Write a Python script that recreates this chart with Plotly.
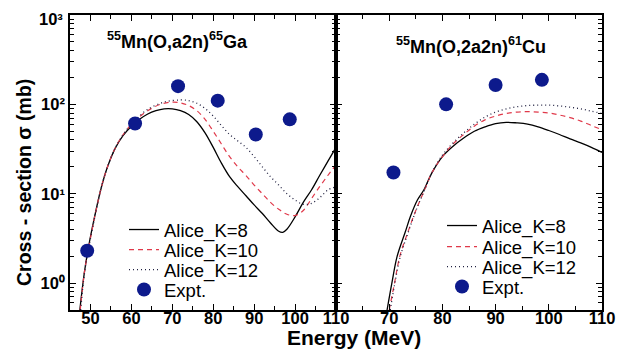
import plotly.graph_objects as go

# ---------------- data ----------------
# Left panel: 55Mn(O,a2n)65Ga
left_k8_E = [47.4, 48.5, 49.5, 51, 52.5, 54, 56, 58, 60, 62, 64, 66, 68, 70, 72, 74, 76, 78, 80, 82, 84, 86, 88, 90, 92, 94, 96, 97, 98, 100, 102, 104, 106, 108, 110]
left_k8_V = [0.5, 1.3, 2.5, 5.5, 11, 19, 32, 45, 57, 68, 78, 85, 89, 89, 85, 77, 64, 48, 33, 22, 15.5, 12, 9.5, 7.5, 6, 4.7, 3.8, 3.7, 4.0, 5.5, 8, 11, 16, 23, 33]

left_k10_E = [47.5, 48.5, 49.5, 51, 52.5, 54, 56, 58, 60, 62, 64, 67, 70, 72, 74, 76, 78, 80, 82, 84, 86, 88, 90, 92, 94, 96, 98, 100, 102, 104, 106, 108, 110]
left_k10_V = [0.5, 1.3, 2.4, 5.4, 11, 19, 32, 46, 60, 73, 85, 100, 106, 104, 97, 85, 68, 50, 36, 26, 20, 16, 12.5, 10, 8, 6.7, 5.9, 5.7, 6.5, 8.8, 12, 16, 21]

left_k12_E = [47.6, 48.5, 49.5, 51, 52.5, 54, 56, 58, 60, 62, 64, 68, 72, 74, 76, 78, 80, 82, 84, 86, 88, 90, 92, 94, 96, 98, 100, 102, 104, 106, 108, 110]
left_k12_V = [0.5, 1.25, 2.4, 5.3, 11, 19, 32, 46, 60, 74, 88, 106, 112, 110, 103, 90, 74, 58, 46, 39, 33, 26, 20, 15.5, 12.5, 10, 8.5, 7.6, 7.8, 9, 11, 12]

left_exp_E = [49.2, 60.9, 71.4, 81.1, 90.4, 98.7]
left_exp_V = [2.3, 61, 160, 110, 46, 68]

# Right panel: 55Mn(O,2a2n)61Cu
right_k8_E = [69.6, 70.5, 71.5, 73, 74, 75.3, 76.5, 78, 80, 82, 84, 86, 88, 90, 92, 94, 96, 98, 100, 102, 104, 106, 108, 110]
right_k8_V = [0.5, 1.0, 2.0, 3.7, 5.6, 8.5, 11, 17, 26, 34, 42, 50, 56, 61, 63, 62, 60, 56, 51, 46, 41, 37, 33, 29]

right_k10_E = [70.0, 71, 72, 73.5, 75, 76.5, 78, 80, 82, 84, 86, 88, 90, 92, 94, 96, 98, 100, 102, 104, 106, 108, 110]
right_k10_V = [0.5, 1.0, 2.0, 3.7, 6.5, 10.5, 17, 26, 36, 46, 57, 67, 74, 79, 82, 83, 82, 80, 76, 71, 65, 58, 52]

right_k12_E = [70.2, 71, 72, 73.5, 75, 76.5, 78, 80, 82, 84, 86, 88, 90, 92, 94, 96, 98, 100, 102, 104, 106, 108, 110]
right_k12_V = [0.5, 0.95, 1.9, 3.6, 6.4, 10.5, 17, 27, 37, 48, 60, 72, 82, 89, 94, 97, 98, 98, 96, 93, 89, 84, 79]

right_exp_E = [70.8, 80.7, 90.0, 98.7]
right_exp_V = [17.3, 100, 165, 188]

# y tick labels (the 10^3 label at the very top edge is placed as an annotation so it is not clipped)
y_tickvals = [1, 10, 100]
y_ticktext = ["10\u2070", "10\u00b9", "10\u00b2"]
y_top_label = "10\u00b3"
left_xticks = [50, 60, 70, 80, 90, 100, 110]
right_xticks = [70, 80, 90, 100, 110]

series_names = ["Alice_K=8", "Alice_K=10", "Alice_K=12", "Expt."]
panel_titles = ["<sup>55</sup>Mn(O,a2n)<sup>65</sup>Ga", "<sup>55</sup>Mn(O,2a2n)<sup>61</sup>Cu"]

# ---------------- layout helpers ----------------
# The page body has an 8px margin, so the figure is drawn 8px in from the window.
OFF = 8
W, H = 632 - OFF, 353 - OFF


def px(rx):
    return (rx - OFF) / W


def py(ry):
    return 1 - (ry - OFF) / H


FONT = "Arial, Liberation Sans, sans-serif"
solid = dict(color="black", width=1.3)
dashed = dict(color="#e0394a", width=1.2, dash="5px,4px")
dotted = dict(color="#202040", width=1.3, dash="1px,3px")
mcolor = "#0d1a8c"

fig = go.Figure()


def add_panel(xa, ya, legends, k8, k10, k12, exp):
    fig.add_trace(go.Scatter(x=k8[0], y=k8[1], mode="lines", line=dict(**solid, shape="spline"),
                             name=series_names[0], xaxis=xa, yaxis=ya, legend=legends[0]))
    fig.add_trace(go.Scatter(x=k10[0], y=k10[1], mode="lines", line=dict(**dashed, shape="spline"),
                             name=series_names[1], xaxis=xa, yaxis=ya, legend=legends[1]))
    fig.add_trace(go.Scatter(x=k12[0], y=k12[1], mode="lines", line=dict(**dotted, shape="spline"),
                             name=series_names[2], xaxis=xa, yaxis=ya, legend=legends[2]))
    fig.add_trace(go.Scatter(x=exp[0], y=exp[1], mode="markers",
                             marker=dict(color=mcolor, size=14, symbol="circle"),
                             name=series_names[3], xaxis=xa, yaxis=ya, legend=legends[3]))


left_legs = ["legend", "legend2", "legend3", "legend4"]
right_legs = ["legend5", "legend6", "legend7", "legend8"]

add_panel("x", "y", left_legs, (left_k8_E, left_k8_V), (left_k10_E, left_k10_V),
          (left_k12_E, left_k12_V), (left_exp_E, left_exp_V))
add_panel("x2", "y2", right_legs, (right_k8_E, right_k8_V), (right_k10_E, right_k10_V),
          (right_k12_E, right_k12_V), (right_exp_E, right_exp_V))

ydom = [py(310), py(15)]

TICKFONT = dict(family=FONT, size=16.5, color="black", weight="bold")
axis_common = dict(showline=True, linecolor="black", linewidth=1.6, mirror="ticks",
                   ticks="inside", ticklen=6, tickwidth=1.4, tickcolor="black",
                   showgrid=False, zeroline=False, automargin=False, ticklabeloverflow="allow",
                   tickfont=TICKFONT)

legend_rows_left = [230, 250, 270, 290]
legend_rows_right = [226, 247, 267, 287]

legend_layout = {}
for name, ry in zip(left_legs, legend_rows_left):
    legend_layout[name] = dict(x=px(124), y=py(ry), xanchor="left", yanchor="middle",
                               bgcolor="rgba(0,0,0,0)", font=dict(family=FONT, size=18.5, color="black"))
for name, ry in zip(right_legs, legend_rows_right):
    legend_layout[name] = dict(x=px(442), y=py(ry), xanchor="left", yanchor="middle",
                               bgcolor="rgba(0,0,0,0)", font=dict(family=FONT, size=18.5, color="black"))

fig.update_layout(
    width=W, height=H,
    margin=dict(l=0, r=0, t=0, b=0, autoexpand=False),
    paper_bgcolor="white", plot_bgcolor="white",
    font=dict(family=FONT, color="black"),
    xaxis=dict(domain=[px(70), px(336)], range=[45, 110], tickmode="array", tickvals=left_xticks,
               minor=dict(dtick=5, tick0=45, ticks="inside", ticklen=4, tickwidth=1.2, tickcolor="black"),
               anchor="y", ticklabelstandoff=-8, **axis_common),
    xaxis2=dict(domain=[px(336), px(602)], range=[60, 110], tickmode="array", tickvals=right_xticks,
                minor=dict(dtick=5, tick0=60, ticks="inside", ticklen=4, tickwidth=1.2, tickcolor="black"),
                anchor="y2", ticklabelstandoff=-8, **axis_common),
    yaxis=dict(domain=ydom, type="log", range=[-0.301, 3], tickmode="array",
               tickvals=y_tickvals, ticktext=y_ticktext,
               minor=dict(dtick="D1", ticks="inside", ticklen=4, tickwidth=1.2, tickcolor="black"),
               anchor="x", **axis_common),
    yaxis2=dict(domain=ydom, type="log", range=[-0.301, 3], tickmode="array",
                tickvals=y_tickvals, showticklabels=False,
                minor=dict(dtick="D1", ticks="inside", ticklen=4, tickwidth=1.2, tickcolor="black"),
                anchor="x2", **axis_common),
    showlegend=True,
    **legend_layout,
)

# top y tick label
fig.add_annotation(text=y_top_label, xref="paper", yref="paper", x=px(65), y=1.0,
                   xanchor="right", yanchor="top", showarrow=False, font=TICKFONT)

# panel titles
fig.add_annotation(text=panel_titles[0], xref="paper", yref="paper", x=px(177), y=py(40),
                   xanchor="center", yanchor="middle", showarrow=False,
                   font=dict(family=FONT, size=18, color="black", weight="bold"))
fig.add_annotation(text=panel_titles[1], xref="paper", yref="paper", x=px(471), y=py(46),
                   xanchor="center", yanchor="middle", showarrow=False,
                   font=dict(family=FONT, size=18, color="black", weight="bold"))

# axis titles
fig.add_annotation(text="Energy (MeV)", xref="paper", yref="paper", x=px(354), y=py(337),
                   xanchor="center", yanchor="middle", showarrow=False,
                   font=dict(family=FONT, size=21, color="black", weight="bold"))
fig.add_annotation(text="Cross - section \u03c3 (mb)", xref="paper", yref="paper", x=px(24), y=py(183),
                   xanchor="center", yanchor="middle", showarrow=False, textangle=-90,
                   font=dict(family=FONT, size=19.5, color="black", weight="bold"))

fig.write_html("out.html")
